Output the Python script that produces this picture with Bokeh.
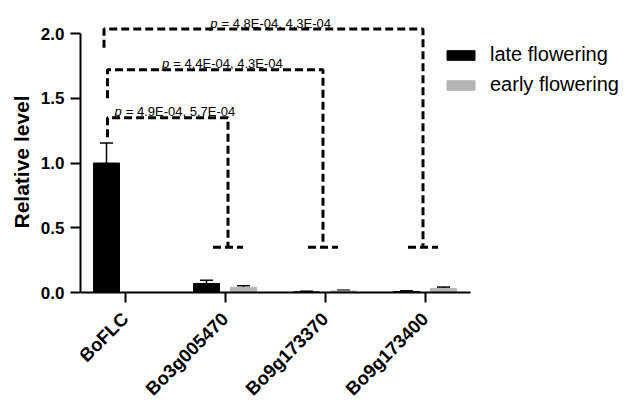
import math
from bokeh.plotting import figure
from bokeh.models import (Range1d, FixedTicker, ColumnDataSource, Whisker, TeeHead,
                          Legend, LegendItem, Title)
from bokeh.transform import dodge
from bokeh.core.properties import value
from bokeh.embed import file_html
from bokeh.resources import INLINE

# ---- data ----
categories = ["BoFLC", "Bo3g005470", "Bo9g173370", "Bo9g173400"]
late_mean = [1.0, 0.07, 0.005, 0.008]
late_sd = [0.155, 0.025, 0.005, 0.005]
early_mean = [0.0, 0.04, 0.012, 0.03]
early_sd = [0.0, 0.013, 0.006, 0.012]
series_names = ["late flowering", "early flowering"]
y_ticks = [0, 0.5, 1.0, 1.5, 2.0]

p_values = ["4.9E-04, 5.7E-04", "4.4E-04, 4.3E-04", "4.8E-04, 4.3E-04"]
bracket_target = [1, 2, 3]
bracket_height = [1.35, 1.72, 2.035]
bracket_start = [1.2, 1.5, 1.89]
bracket_bottom = 0.35

FONT = "Liberation Sans"
BLACK = "#000000"
GREY = "#b4b4b4"
OFF = 0.185
BW = 0.26

x_idx = list(range(len(categories)))

p = figure(width=628, height=405, x_range=Range1d(-0.445, 5.035),
           y_range=Range1d(-0.8726, 2.178),
           output_backend="svg", toolbar_location=None,
           min_border_left=80, min_border_right=0, min_border_top=10, min_border_bottom=0)
p.outline_line_color = None
p.xgrid.visible = False
p.ygrid.visible = False

late_src = ColumnDataSource(dict(x=x_idx, top=late_mean,
                                 upper=[m + s for m, s in zip(late_mean, late_sd)]))
early_keep = [i for i in x_idx if early_mean[i] > 0]
early_src = ColumnDataSource(dict(x=x_idx, top=early_mean))
early_err = ColumnDataSource(dict(x=[x_idx[i] for i in early_keep],
                                  top=[early_mean[i] for i in early_keep],
                                  upper=[early_mean[i] + early_sd[i] for i in early_keep]))

r_late = p.vbar(x=dodge("x", -OFF, range=p.x_range), top="top", width=BW, bottom=0,
                source=late_src, fill_color=BLACK, line_color=BLACK)
r_early = p.vbar(x=dodge("x", OFF, range=p.x_range), top="top", width=BW, bottom=0,
                 source=early_src, fill_color=GREY, line_color=GREY)

for src, d in ((late_src, -OFF), (early_err, OFF)):
    w = Whisker(base=dodge("x", d, range=p.x_range), lower="top", upper="upper", source=src,
                line_color=BLACK, line_width=1.5,
                upper_head=TeeHead(size=13, line_color=BLACK, line_width=1.5),
                lower_head=None)
    p.add_layout(w)

# ---- significance brackets ----
def bracket_ends(i, tgt):
    left = -OFF + 0.01 if i < 2 else -OFF - 0.025
    right = tgt + 0.03 - 0.05 * (i > 0)
    return left, right

xs, ys, tx = [], [], []
for i, tgt in enumerate(bracket_target):
    left, right = bracket_ends(i, tgt)
    xs.append([left, left, right, right])
    ys.append([bracket_start[i], bracket_height[i], bracket_height[i], bracket_bottom])
    xs.append([right - 0.15, right + 0.15])
    ys.append([bracket_bottom, bracket_bottom])
    tx.append((left + right) / 2 - 0.46)
p.multi_line(xs=xs, ys=ys, line_color=BLACK, line_width=3, line_dash="8 4")

p.text(x=tx, y=bracket_height, text=["p"] * 3, text_font=value(FONT), text_font_style="italic",
       text_font_size="13px", text_align="right", text_baseline="alphabetic", y_offset=-6,
       text_color=BLACK)
p.text(x=tx, y=bracket_height, text=["= " + s for s in p_values], text_font=value(FONT),
       text_font_size="13px", text_align="left", text_baseline="alphabetic", y_offset=-6,
       x_offset=4, text_color=BLACK)

# ---- axes ----
ya = p.yaxis[0]
ya.ticker = FixedTicker(ticks=y_ticks)
ya.bounds = (y_ticks[0], y_ticks[-1])
ya.axis_line_width = 2
ya.axis_line_color = BLACK
ya.major_tick_line_width = 2
ya.major_tick_line_color = BLACK
ya.major_tick_out = 10
ya.major_tick_in = 0
ya.minor_tick_line_color = None
ya.major_label_text_font = FONT
ya.major_label_text_font_style = "bold"
ya.major_label_text_font_size = "17px"
ya.major_label_text_color = BLACK
ya.major_label_standoff = 6
ya.major_label_overrides = {t: f"{t:.1f}" for t in y_ticks}

xa = p.xaxis[0]
xa.fixed_location = 0
xa.ticker = FixedTicker(ticks=x_idx)
xa.major_label_overrides = {i: c for i, c in zip(x_idx, categories)}
xa.bounds = (-0.445, 3.455)
xa.axis_line_width = 2
xa.axis_line_color = BLACK
xa.major_tick_line_width = 2
xa.major_tick_line_color = BLACK
xa.major_tick_out = 10
xa.major_tick_in = 0
xa.minor_tick_line_color = None
xa.major_label_orientation = math.pi / 4
xa.major_label_text_font = FONT
xa.major_label_text_font_style = "bold"
xa.major_label_text_font_size = "18.5px"
xa.major_label_text_color = BLACK
xa.major_label_standoff = 13

ytitle = Title(text="Relative level", align="left", offset=177, text_font=FONT,
               text_font_style="bold", text_font_size="21px", text_color=BLACK,
               standoff=10)
p.add_layout(ytitle, "left")

legend = Legend(items=[LegendItem(label=series_names[0], renderers=[r_late]),
                       LegendItem(label=series_names[1], renderers=[r_early])],
                location=(363, 309), glyph_width=35, glyph_height=12, label_height=20,
                spacing=7, label_standoff=12, padding=0, margin=0,
                border_line_color=None, background_fill_alpha=0,
                label_text_font=FONT, label_text_font_size="20px",
                label_text_color=BLACK)
p.add_layout(legend)

open("out.html", "w").write(file_html(p, INLINE))
